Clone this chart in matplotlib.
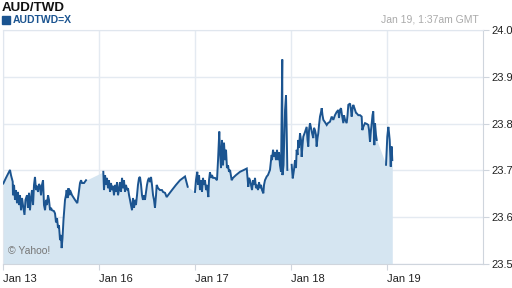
import numpy as np
import matplotlib
matplotlib.use("Agg")
import matplotlib.pyplot as plt

plt.rcParams['font.family'] = ['Liberation Sans', 'DejaVu Sans']

# x = trading days since Jan 13 open, y = AUD/TWD rate; gaps between segments
seg1_x = [0.003, 0.031, 0.073, 0.083, 0.101, 0.104, 0.115, 0.125, 0.135, 0.146, 0.156, 0.167, 0.177,
          0.188, 0.198, 0.208, 0.224, 0.234, 0.25, 0.26, 0.271, 0.281, 0.292, 0.302, 0.313, 0.323,
          0.333, 0.344, 0.354, 0.365, 0.375, 0.385, 0.396, 0.406, 0.417, 0.427, 0.438, 0.448, 0.458,
          0.469, 0.479, 0.49, 0.5, 0.51, 0.531, 0.542, 0.552, 0.563, 0.573, 0.583, 0.594, 0.604,
          0.611, 0.62, 0.63, 0.646, 0.656, 0.663, 0.672, 0.682, 0.693, 0.698, 0.719, 0.75, 0.774,
          0.786, 0.802, 0.813, 0.823, 0.844, 0.865]
seg1_y = [23.672, 23.684, 23.701, 23.690, 23.676, 23.647, 23.669, 23.637, 23.658, 23.630, 23.654,
          23.626, 23.647, 23.615, 23.641, 23.626, 23.605, 23.637, 23.647, 23.620, 23.652, 23.615,
          23.641, 23.658, 23.626, 23.669, 23.686, 23.658, 23.667, 23.654, 23.671, 23.667, 23.647,
          23.669, 23.679, 23.626, 23.615, 23.637, 23.626, 23.647, 23.637, 23.615, 23.620, 23.615,
          23.613, 23.608, 23.589, 23.598, 23.577, 23.583, 23.551, 23.562, 23.534, 23.556, 23.594,
          23.637, 23.647, 23.658, 23.641, 23.662, 23.647, 23.658, 23.647, 23.637, 23.630, 23.647,
          23.673, 23.679, 23.673, 23.673, 23.679]

seg2_x = [1.045, 1.052, 1.063, 1.073, 1.083, 1.094, 1.104, 1.115, 1.125, 1.135, 1.146, 1.156, 1.167,
          1.177, 1.188, 1.198, 1.208, 1.219, 1.229, 1.24, 1.25, 1.26, 1.271, 1.281, 1.292, 1.302,
          1.313, 1.323, 1.333, 1.344, 1.354, 1.365, 1.375, 1.385, 1.396, 1.406, 1.417, 1.427, 1.438,
          1.448, 1.458, 1.469, 1.479, 1.49, 1.5, 1.51, 1.521, 1.531, 1.542, 1.552, 1.563, 1.573,
          1.583, 1.594, 1.601, 1.615, 1.635, 1.656, 1.667, 1.688, 1.705, 1.719, 1.76, 1.802, 1.844,
          1.896, 1.924]
seg2_y = [23.697, 23.658, 23.690, 23.669, 23.684, 23.662, 23.679, 23.654, 23.673, 23.658, 23.667,
          23.647, 23.669, 23.654, 23.675, 23.647, 23.658, 23.675, 23.654, 23.684, 23.662, 23.679,
          23.654, 23.669, 23.658, 23.662, 23.647, 23.637, 23.626, 23.615, 23.641, 23.620, 23.637,
          23.626, 23.647, 23.669, 23.684, 23.686, 23.669, 23.647, 23.637, 23.647, 23.637, 23.654,
          23.669, 23.679, 23.684, 23.675, 23.686, 23.669, 23.647, 23.637, 23.620, 23.647, 23.669,
          23.662, 23.658, 23.658, 23.654, 23.652, 23.643, 23.647, 23.658, 23.669, 23.679, 23.687,
          23.665]

seg3_x = [2.0, 2.01, 2.024, 2.031, 2.042, 2.052, 2.063, 2.073, 2.083, 2.094, 2.104, 2.115, 2.125,
          2.139, 2.146, 2.156, 2.167, 2.177, 2.188, 2.208, 2.229, 2.24, 2.253, 2.26, 2.271, 2.281,
          2.292, 2.302, 2.313, 2.323, 2.333, 2.344, 2.354, 2.365, 2.382, 2.396, 2.427, 2.469, 2.51,
          2.539, 2.555, 2.563, 2.573, 2.583, 2.594, 2.604, 2.615, 2.625, 2.635, 2.646, 2.656, 2.667,
          2.677, 2.688, 2.698, 2.712, 2.719, 2.729, 2.747, 2.76, 2.781, 2.792, 2.799, 2.802, 2.813,
          2.823, 2.833, 2.844, 2.854, 2.865, 2.875, 2.885, 2.896, 2.903, 2.909, 2.911, 2.922, 2.938,
          2.948, 2.955, 2.962]
seg3_y = [23.654, 23.679, 23.697, 23.669, 23.690, 23.658, 23.679, 23.654, 23.684, 23.669, 23.679,
          23.658, 23.669, 23.643, 23.679, 23.696, 23.684, 23.690, 23.684, 23.684, 23.679, 23.722,
          23.783, 23.742, 23.705, 23.765, 23.711, 23.759, 23.722, 23.744, 23.705, 23.711, 23.697,
          23.701, 23.679, 23.684, 23.690, 23.697, 23.701, 23.704, 23.665, 23.684, 23.679, 23.669,
          23.658, 23.679, 23.669, 23.684, 23.662, 23.669, 23.658, 23.675, 23.662, 23.669, 23.658,
          23.651, 23.669, 23.679, 23.687, 23.690, 23.701, 23.722, 23.733, 23.722, 23.744, 23.729,
          23.739, 23.722, 23.744, 23.722, 23.739, 23.711, 23.697, 23.829, 23.937, 23.690, 23.711,
          23.829, 23.861, 23.783, 23.701]

seg4_x = [3.007, 3.018, 3.031, 3.042, 3.052, 3.059, 3.068, 3.076, 3.083, 3.094, 3.104, 3.111, 3.12,
          3.128, 3.146, 3.163, 3.172, 3.18, 3.188, 3.198, 3.208, 3.219, 3.232, 3.24, 3.25, 3.26,
          3.267, 3.276, 3.284, 3.292, 3.302, 3.313, 3.32, 3.328, 3.337, 3.354, 3.372, 3.385, 3.406,
          3.424, 3.441, 3.458, 3.476, 3.493, 3.5, 3.51, 3.521, 3.531, 3.545, 3.552, 3.563, 3.58,
          3.589, 3.597, 3.615, 3.625, 3.632, 3.641, 3.649, 3.661, 3.677, 3.684, 3.701, 3.719, 3.736,
          3.743, 3.753, 3.771, 3.792, 3.805, 3.813, 3.823, 3.833, 3.841, 3.849, 3.857, 3.868, 3.875,
          3.885, 3.893]
seg4_y = [23.712, 23.683, 23.701, 23.722, 23.705, 23.744, 23.733, 23.765, 23.748, 23.779, 23.765,
          23.729, 23.754, 23.772, 23.782, 23.793, 23.765, 23.751, 23.786, 23.801, 23.791, 23.780,
          23.769, 23.791, 23.786, 23.776, 23.751, 23.769, 23.779, 23.797, 23.815, 23.825, 23.833,
          23.818, 23.808, 23.803, 23.797, 23.801, 23.804, 23.815, 23.808, 23.818, 23.825, 23.829,
          23.812, 23.829, 23.833, 23.818, 23.801, 23.818, 23.808, 23.801, 23.818, 23.840, 23.843,
          23.829, 23.815, 23.833, 23.840, 23.833, 23.823, 23.822, 23.818, 23.818, 23.815, 23.786,
          23.793, 23.801, 23.799, 23.797, 23.786, 23.761, 23.786, 23.801, 23.818, 23.826, 23.754,
          23.801, 23.776, 23.765]

seg5_x = [3.99, 4.003, 4.014, 4.021, 4.028, 4.039, 4.044, 4.049, 4.055]
seg5_y = [23.712, 23.772, 23.793, 23.780, 23.765, 23.708, 23.744, 23.751, 23.722]

day_labels = ["Jan 13", "Jan 16", "Jan 17", "Jan 18", "Jan 19"]
y_ticks = [23.5, 23.6, 23.7, 23.8, 23.9, 24.0]

segs = [(seg1_x, seg1_y), (seg2_x, seg2_y), (seg3_x, seg3_y), (seg4_x, seg4_y), (seg5_x, seg5_y)]

line_c = "#1b5490"
fill_c = "#d5e5f1"
grid_c = "#e4eaf1"

fig = plt.figure(figsize=(5.12, 2.88), dpi=100)
ax = fig.add_axes([3 / 512, 24 / 288, 480 / 512, 234 / 288])

all_x = np.concatenate([np.array(s[0]) for s in segs])
all_y = np.concatenate([np.array(s[1]) for s in segs])
ax.fill_between(all_x, all_y, 23.5, color=fill_c, linewidth=0, zorder=1)

for sx, sy in segs:
    ax.plot(sx, sy, color=line_c, linewidth=1.4, zorder=3, solid_joinstyle="miter")

ax.set_xlim(0, 5)
ax.set_ylim(23.5, 24.0)
ax.set_xticks(range(5))
ax.set_xticklabels(day_labels, ha="left", fontsize=8, color="#222222")
ax.set_yticks(y_ticks)
ax.set_yticklabels(["%.1f" % v for v in y_ticks], fontsize=8, color="#222222")
ax.yaxis.tick_right()
ax.tick_params(axis="y", direction="out", length=4, width=0.8, color="#cfd5dd", pad=2)
ax.tick_params(axis="x", direction="out", length=4, width=0.8, color="#cfd5dd", pad=3)
ax.grid(True, color=grid_c, linewidth=1, zorder=0)
ax.set_axisbelow(True)
for side in ["left", "top"]:
    ax.spines[side].set_color("#e0e6ee")
for side in ["right", "bottom"]:
    ax.spines[side].set_color("#cfd5dd")
for sp in ax.spines.values():
    sp.set_linewidth(0.8)

ax.text(0.01, 0.035, "\u00a9 Yahoo!", transform=ax.transAxes, fontsize=7.5, color="#777777",
        va="bottom", ha="left", zorder=4)

fig.text(2 / 512, 1 - 2 / 288, "AUD/TWD", fontsize=9.6, fontweight="bold", color="#111111",
         va="top", ha="left")
fig.patches.append(plt.Rectangle((2 / 512, 1 - 24 / 288), 8 / 512, 8 / 288, transform=fig.transFigure,
                                 color="#1b5490", figure=fig))
fig.text(13 / 512, 1 - 20 / 288, "AUDTWD=X", fontsize=7.5, fontweight="bold", color="#1b5490",
         va="center", ha="left")
fig.text(479 / 512, 1 - 20 / 288, "Jan 19, 1:37am GMT", fontsize=7.5, color="#aaaaaa",
         va="center", ha="right")

fig.savefig("out.png", dpi=100)
